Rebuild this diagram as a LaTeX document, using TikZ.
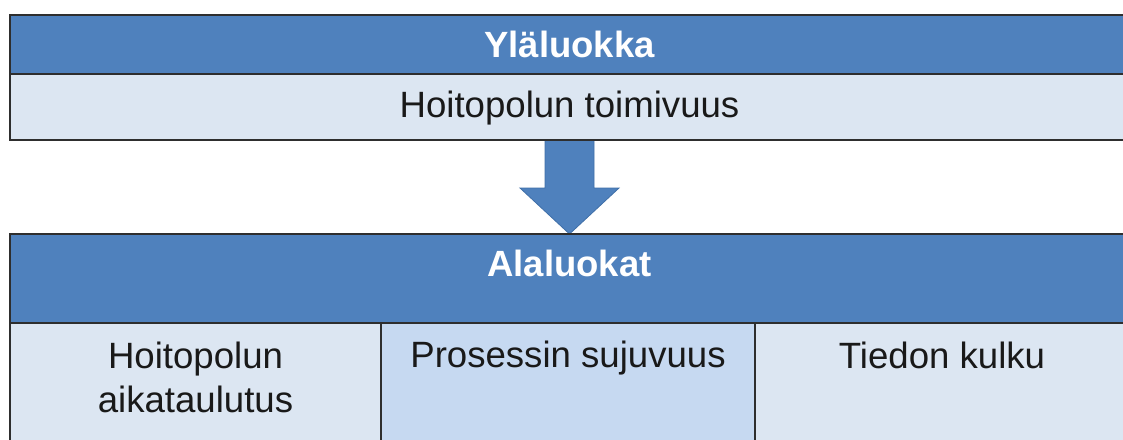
\documentclass[tikz,border=0pt]{standalone}
\usepackage{fontspec}
\setmainfont{Liberation Sans}
\definecolor{hdrblue}{HTML}{4F81BD}
\definecolor{cellpale}{HTML}{DCE6F2}
\definecolor{cellmid}{HTML}{C6D9F1}
\definecolor{edgegray}{HTML}{2E2E2E}
\definecolor{arrowedge}{HTML}{3F6FA8}
\tikzset{
  cellbox/.style={draw=edgegray, line width=2pt, inner sep=0pt, outer sep=0pt, anchor=north west},
  hdrtext/.style={anchor=base, text=white, font=\fontsize{36.5}{44}\selectfont\bfseries, inner sep=0pt},
  celltext/.style={anchor=base, text=black!90, font=\fontsize{36.6}{44}\selectfont, inner sep=0pt, align=center},
}
\begin{document}
\begin{tikzpicture}[x=1pt, y=-1pt]
\useasboundingbox (0,0) rectangle (1123,439);
\fill[white] (0,0) rectangle (1123,439);
\clip (0,0) rectangle (1123,439);

% upper category
\node[cellbox, fill=hdrblue, minimum width=1119pt, minimum height=59pt] (tophdr) at (10,15) {};
\node[cellbox, fill=cellpale, minimum width=1119pt, minimum height=66pt] (topcell) at (10,74) {};
\node[hdrtext] (toptitle) at (569.5,57) {Yläluokka};
\node[celltext] (toptext) at (569.5,117) {Hoitopolun toimivuus};

% lower categories
\node[cellbox, fill=hdrblue, minimum width=1119pt, minimum height=89pt] (bothdr) at (10,234) {};
\node[cellbox, fill=cellpale, minimum width=371pt, minimum height=140pt] (cellA) at (10,323) {};
\node[cellbox, fill=cellmid, minimum width=374pt, minimum height=140pt] (cellB) at (381,323) {};
\node[cellbox, fill=cellpale, minimum width=374pt, minimum height=140pt] (cellC) at (755,323) {};
\node[hdrtext] (bottitle) at (569.5,276) {Alaluokat};
\node[celltext] (textA) at (195.5,368) {Hoitopolun};
\node[celltext] (textA2) at (195.5,412) {aikataulutus};
\node[celltext] (textB) at (568,367) {Prosessin sujuvuus};
\node[celltext] (textC) at (942,368) {Tiedon kulku};

% block arrow between the two levels
\coordinate (shaftL) at (545,140);
\coordinate (tip) at (569.5,234);
\fill[hdrblue, draw=arrowedge, line width=0.8pt, line join=miter]
  (shaftL) -- (594,140) -- (594,188) -- (619,188) -- (tip)
  -- (520,188) -- (545,188) -- cycle;
\draw[edgegray, line width=2pt] (topcell.south west) -- (topcell.south east);
\draw[edgegray, line width=2pt] (bothdr.north west) -- (bothdr.north east);
\end{tikzpicture}
\end{document}
